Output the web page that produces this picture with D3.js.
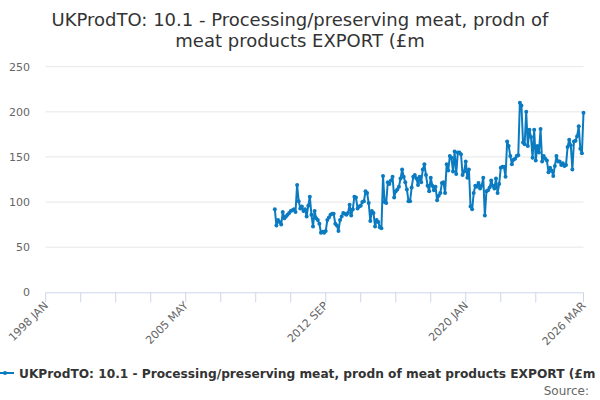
<!DOCTYPE html>
<html>
<head>
<meta charset="utf-8">
<script src="https://cdn.jsdelivr.net/npm/d3@7"></script>
<style>
body{margin:0;background:#fff;}
svg{display:block;}
</style>
</head>
<body>
<div id="Container"></div>
<script>
var titleLines=["UKProdTO: 10.1 - Processing/preserving meat, prodn of","meat products EXPORT (£m"]
var seriesName="UKProdTO: 10.1 - Processing/preserving meat, prodn of meat products EXPORT (£m"
var monthNames=["JAN","FEB","MAR","APR","MAY","JUN","JUL","AUG","SEP","OCT","NOV","DEC"]
// category axis runs 1998 JAN .. 2026 MAR
var firstYear=1998, monthCount=339
var dataStart=144   // 2010 JAN
var yTicks=[0,50,100,150,200,250]
var tickMonths=[0,22,44,66,88,110,132,154,176,198,220,242,264,286,308,338]
var labelMonths=[0,88,176,264,338]
var values=[
 92,74,80,78,75,89,82,84,86,88,90,91,
 92,89,119,101,93,95,90,92,84,96,106,86,
 73,90,82,80,76,66,67,66,68,80,83,86,
 87,87,76,74,68,80,84,88,87,86,88,97,
 85,92,106,105,93,95,96,100,101,112,110,99,
 79,90,88,73,80,78,72,71,129,100,99,122,
 120,124,128,105,112,114,117,126,136,128,122,114,
 101,101,116,128,130,126,119,128,122,136,142,130,
 118,112,127,118,113,117,102,107,110,121,122,110,
 142,135,151,149,134,156,131,155,155,153,130,134,
 145,127,136,95,92,110,118,117,121,115,118,127,
 85,112,113,116,124,118,115,126,110,120,138,139,
 139,128,167,162,151,142,147,148,151,152,210,207,
 166,164,200,162,180,172,149,180,146,162,155,181,
 145,151,148,146,133,138,135,129,140,151,145,145,
 141,143,140,141,161,169,163,136,167,168,173,184,
 159,154,199
]

var width=600, height=400
var svg=d3.select("#Container")
	.append("svg")
	.attr("width",width)
	.attr("height",height)
	.style("font-family","'DejaVu Sans', sans-serif")

var x=d3.scaleLinear().domain([0,monthCount-1]).range([45.7,583.5])
var y=d3.scaleLinear().domain([0,250]).range([292.3,66.7])

function monthLabel(i){
	return (firstYear+Math.floor(i/12))+" "+monthNames[i%12]
}

svg.append("g").selectAll("text")
	.data(titleLines)
	.enter().append("text")
	.attr("x",width/2)
	.attr("y",function(d,i){return 26+i*21})
	.attr("text-anchor","middle")
	.style("font-size","18px")
	.style("fill","#333333")
	.text(function(d){return d})

// grid + y labels
var yAxis=svg.append("g")
yAxis.selectAll("line")
	.data(yTicks.filter(function(d){return d>0}))
	.enter().append("line")
	.attr("x1",x(0)).attr("x2",x(monthCount-1))
	.attr("y1",function(d){return y(d)}).attr("y2",function(d){return y(d)})
	.style("stroke","#e6e6e6")
	.style("stroke-width",1)
yAxis.selectAll("text")
	.data(yTicks)
	.enter().append("text")
	.attr("x",30)
	.attr("y",function(d){return y(d)+4})
	.attr("text-anchor","end")
	.style("font-size","11px")
	.style("fill","#666666")
	.text(function(d){return d})

// x axis
var xAxis=svg.append("g")
xAxis.append("line")
	.attr("x1",x(0)).attr("x2",x(monthCount-1))
	.attr("y1",y(0)+0.5).attr("y2",y(0)+0.5)
	.style("stroke","#ccd6eb")
xAxis.selectAll(".tick")
	.data(tickMonths)
	.enter().append("line")
	.attr("x1",function(d){return x(d)}).attr("x2",function(d){return x(d)})
	.attr("y1",y(0)).attr("y2",y(0)+10)
	.style("stroke","#ccd6eb")
xAxis.selectAll("text")
	.data(labelMonths)
	.enter().append("text")
	.attr("transform",function(d){return "translate("+(x(d)+3)+","+(y(0)+14)+") rotate(-45)"})
	.attr("text-anchor","end")
	.style("font-size","11px")
	.style("fill","#666666")
	.text(function(d){return monthLabel(d)})

// series
var pts=values.map(function(v,i){return {m:dataStart+i,v:v}})
var line=d3.line()
	.x(function(d){return x(d.m)})
	.y(function(d){return y(d.v)})
svg.append("path")
	.datum(pts)
	.attr("d",line)
	.style("fill","none")
	.style("stroke","#0b7bc1")
	.style("stroke-width",2)
	.style("stroke-linejoin","round")
svg.append("g").selectAll("circle")
	.data(pts)
	.enter().append("circle")
	.attr("cx",function(d){return x(d.m)})
	.attr("cy",function(d){return y(d.v)})
	.attr("r",2)
	.style("fill","#0b7bc1")

// legend
var legend=svg.append("g")
legend.append("line")
	.attr("x1",0).attr("x2",14)
	.attr("y1",373).attr("y2",373)
	.style("stroke","#0b7bc1")
	.style("stroke-width",2)
legend.append("circle")
	.attr("cx",5).attr("cy",373).attr("r",2)
	.style("fill","#0b7bc1")
legend.append("text")
	.attr("x",19)
	.attr("y",377.5)
	.style("font-size","12.2px")
	.style("font-weight","bold")
	.style("fill","#333333")
	.text(seriesName)

svg.append("text")
	.attr("x",589)
	.attr("y",395)
	.attr("text-anchor","end")
	.style("font-size","12px")
	.style("fill","#666666")
	.text("Source:")
</script>
</body>
</html>
